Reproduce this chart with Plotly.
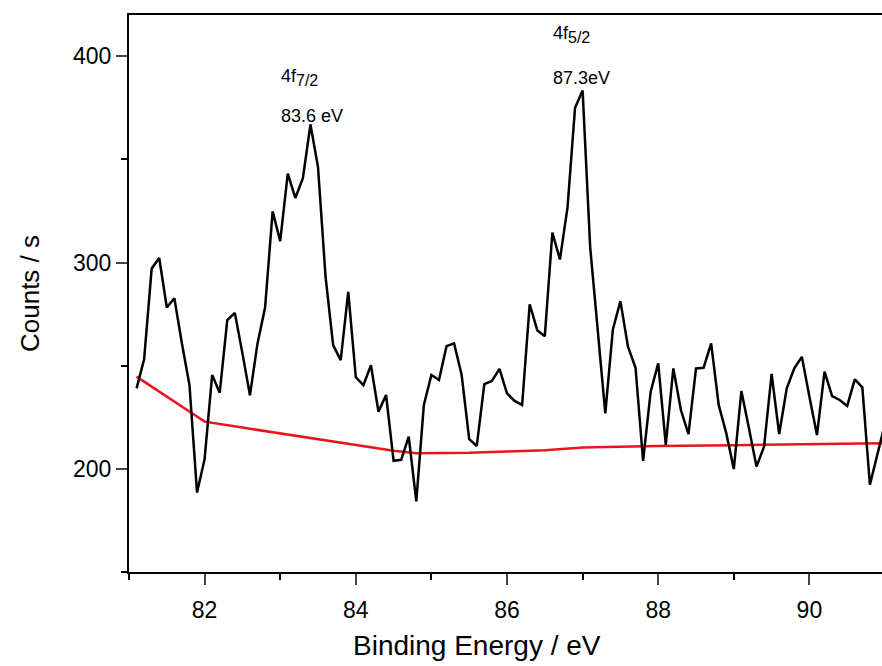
import plotly.graph_objects as go

# Binding energy grid (eV), 0.1 eV steps
energy = [round(81.1 + 0.1 * i, 1) for i in range(100)]

counts = [
    239.0, 253.1, 297.1, 302.2, 278.2, 282.7, 260.8, 240.6, 188.5, 204.7,
    245.5, 236.9, 272.1, 275.6, 256.1, 235.7, 260.8, 278.2, 324.8, 310.4,
    343.1, 331.3, 340.9, 366.9, 346.3, 293.0, 260.0, 252.7, 285.8, 244.4,
    240.6, 250.2, 227.7, 235.8, 203.9, 204.4, 215.6, 184.2, 231.0, 245.5,
    243.1, 259.5, 260.8, 245.5, 214.4, 211.1, 241.1, 242.6, 248.5, 236.6,
    232.9, 231.0, 279.8, 267.2, 264.3, 314.5, 301.5, 326.6, 375.0, 383.4,
    307.5, 266.0, 226.9, 267.6, 281.3, 259.2, 249.0, 203.9, 237.4, 251.1,
    211.6, 248.7, 228.5, 216.8, 248.7, 249.0, 260.8, 231.0, 217.3, 199.9,
    237.7, 219.7, 201.1, 210.8, 246.0, 216.9, 239.0, 248.7, 254.3, 235.0,
    216.4, 247.1, 235.3, 233.4, 230.5, 243.4, 239.5, 192.3, 207.6, 222.0,
]

bg_energy = [81.1, 82.0, 82.5, 83.0, 83.5, 84.0, 84.5, 84.8, 85.5, 86.0,
             86.5, 87.0, 87.5, 88.0, 89.0, 90.0, 91.0]
bg_counts = [244.7, 222.9, 220.0, 217.2, 214.1, 211.5, 208.8, 207.6, 207.8, 208.4,
             209.0, 210.3, 210.8, 211.1, 211.5, 211.9, 212.4]

x_range = [81.0, 90.96]
y_range = [150, 420]
x_ticks = [82, 84, 86, 88, 90]
y_ticks = [200, 300, 400]

SUB = '<sub><span style="font-size:16px">{}</span></sub>'
peak_labels = [
    (82.98, 389.5, "4f" + SUB.format("7/2")),
    (82.98, 371, "83.6 eV"),
    (86.58, 410.5, "4f" + SUB.format("5/2")),
    (86.58, 389.5, "87.3eV"),
]

FONT = "Liberation Sans, Arial, sans-serif"

fig = go.Figure()
fig.add_trace(go.Scatter(x=bg_energy, y=bg_counts, mode="lines",
                         line=dict(color="#e8141c", width=2.5), showlegend=False))
fig.add_trace(go.Scatter(x=energy, y=counts, mode="lines",
                         line=dict(color="black", width=2.5), showlegend=False))

for x, y, t in peak_labels:
    fig.add_annotation(x=x, y=y, xref="x", yref="y", text=t, showarrow=False,
                       xanchor="left", yanchor="middle",
                       font=dict(family=FONT, size=18, color="black"))

fig.add_annotation(x=(477 - 129) / 753, y=-(645 - 572) / 557, xref="paper", yref="paper",
                   text="Binding Energy / eV", showarrow=False,
                   xanchor="center", yanchor="middle",
                   font=dict(family=FONT, size=28, color="black"))

fig.update_layout(
    width=882, height=666,
    margin=dict(l=129, r=0, t=15, b=94),
    plot_bgcolor="white", paper_bgcolor="white",
    font=dict(family=FONT, color="black"),
    xaxis=dict(range=x_range, tickvals=x_ticks, ticks="outside", ticklen=11, tickwidth=2,
               showline=True, linecolor="black", linewidth=2, mirror=True,
               showgrid=False, zeroline=False, ticklabelstandoff=5,
               tickfont=dict(size=23, family=FONT),
               minor=dict(tickvals=[81, 83, 85, 87, 89], ticks="outside", ticklen=6,
                          tickwidth=2, tickcolor="black", showgrid=False)),
    yaxis=dict(range=y_range, tickvals=y_ticks, ticks="outside", ticklen=11, tickwidth=2,
               showline=True, linecolor="black", linewidth=2,
               showgrid=False, zeroline=False,
               tickfont=dict(size=23, family=FONT),
               title=dict(text="Counts / s", font=dict(size=26, family=FONT), standoff=26),
               minor=dict(tickvals=[150, 250, 350], ticks="outside", ticklen=6,
                          tickwidth=2, tickcolor="black", showgrid=False)),
)

fig.write_html("out.html")
